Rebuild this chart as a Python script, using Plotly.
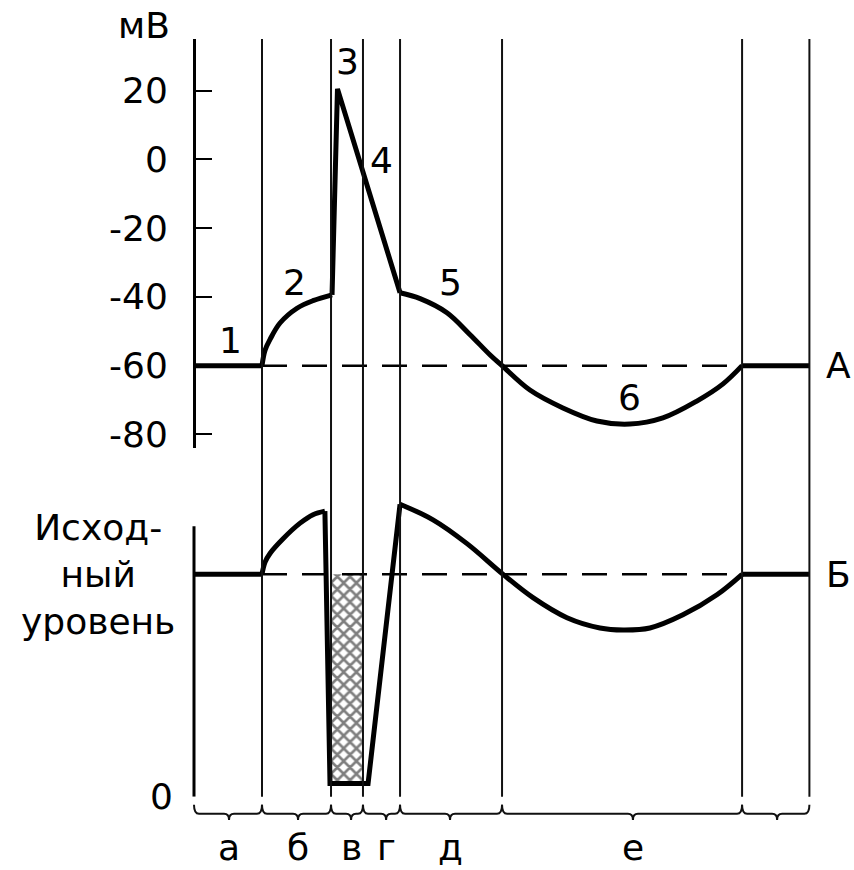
import plotly.graph_objects as go

# ---------------- data (time in arbitrary units, potential in mV) ----------------
phase_bounds = [0, 2.0, 4.03, 4.97, 6.06, 9.06, 16.12, 18.1]
phase_labels = ["а", "б", "в", "г", "д", "е", ""]
phase_label_x = [1.03, 3.06, 4.62, 5.65, 7.53, 12.91, 17.15]

mv_ticks = [20, 0, -20, -40, -60, -80]
mv_ticktext = ["20", "0", "-20", "-40", "-60", "-80"]
resting_mv = -60
baseline_exc = 100
exc_axis_top = 121.6

# membrane potential (A), split into linear / smooth pieces
a_rest1_x = [0, 2.0]
a_rest1_y = [-60, -60]
a_prepot_x = [2.0, 2.09, 2.24, 2.53, 3.03, 3.5, 4.06]
a_prepot_y = [-60, -55.5, -52.3, -47.6, -43.3, -41.1, -39.4]
a_spike_x = [4.06, 4.22, 6.06]
a_spike_y = [-39.4, 20.5, -38.8]
a_trace_x = [6.06, 6.65, 7.44, 8.12, 8.71, 9.06, 9.88, 10.85, 11.85, 12.82, 13.79, 14.79, 15.56, 16.12]
a_trace_y = [-38.8, -40.5, -44.6, -51.0, -56.9, -60.0, -67.1, -72.3, -76.1, -77.0, -75.2, -70.3, -65.3, -60]
a_rest2_x = [16.12, 18.1]
a_rest2_y = [-60, -60]

# excitability (Б), baseline = 100
b_rest1_x = [0, 2.0]
b_rest1_y = [100, 100]
b_supra_x = [2.0, 2.09, 2.24, 2.62, 3.12, 3.5, 3.85]
b_supra_y = [100, 105.5, 109.5, 116.0, 123.0, 126.8, 128.4]
b_refr_x = [3.85, 4.0, 5.12, 6.06]
b_refr_y = [128.4, 6, 6, 131.5]
b_trace_x = [6.06, 7.03, 8.03, 9.09, 9.97, 10.97, 11.94, 12.62, 13.41, 14.38, 15.38, 16.12]
b_trace_y = [131.5, 124.5, 113.8, 100, 89.5, 80.5, 75.9, 75.0, 75.9, 81.8, 90.8, 100]
b_rest2_x = [16.12, 18.1]
b_rest2_y = [100, 100]

# absolute refractory area (hatched)
hatch_x = [4.0, 4.97, 4.97, 4.0]
hatch_y = [100, 100, 6, 6]

# curve number labels
num_labels = ["1", "2", "3", "4", "5", "6"]
num_x = [1.06, 2.97, 4.5, 5.5, 7.53, 12.82]
num_y = [-52.8, -35.9, 28.6, -0.3, -35.9, -69.4]

# ---------------- figure geometry ----------------
W = 854
REF_H = 870                   # reference picture height (layout fractions)
FIG_H = 893                   # rendered figure height (page photo squeezes it)
PX0, PXU = 194, 34.0          # pixel of t=0 and pixels per unit
def py(p):                    # reference pixel row -> paper fraction
    return 1 - p / REF_H

FONT = "DejaVu Sans"
FS = 36
CURVE_W = 5

fig = go.Figure()

# hatched area
fig.add_trace(go.Scatter(
    x=hatch_x, y=hatch_y, xaxis="x", yaxis="y2", mode="lines", fill="toself",
    line=dict(width=0, color="black"), fillcolor="white",
    fillpattern=dict(shape="x", size=9, solidity=0.5, fgcolor="black", bgcolor="white"),
))

# dashed reference levels
fig.add_trace(go.Scatter(x=[phase_bounds[1], phase_bounds[6]], y=[resting_mv, resting_mv],
                         yaxis="y", mode="lines",
                         line=dict(color="black", width=2.5, dash="25px,15px")))
fig.add_trace(go.Scatter(x=[phase_bounds[1], phase_bounds[6]], y=[baseline_exc, baseline_exc],
                         yaxis="y2", mode="lines",
                         line=dict(color="black", width=2.5, dash="25px,15px")))

def seg(x, y, ax, smooth):
    fig.add_trace(go.Scatter(
        x=x, y=y, yaxis=ax, mode="lines",
        line=dict(color="black", width=CURVE_W, shape="spline" if smooth else "linear",
                  smoothing=1.0 if smooth else None),
    ))

seg(a_rest1_x, a_rest1_y, "y", False)
seg(a_prepot_x, a_prepot_y, "y", True)
seg(a_spike_x, a_spike_y, "y", False)
seg(a_trace_x, a_trace_y, "y", True)
seg(a_rest2_x, a_rest2_y, "y", False)

seg(b_rest1_x, b_rest1_y, "y2", False)
seg(b_supra_x, b_supra_y, "y2", True)
seg(b_refr_x, b_refr_y, "y2", False)
seg(b_trace_x, b_trace_y, "y2", True)
seg(b_rest2_x, b_rest2_y, "y2", False)

shapes = []
# lower (excitability) axis line
shapes.append(dict(type="line", xref="x", yref="y2", x0=0, x1=0, y0=0, y1=exc_axis_top,
                   line=dict(color="black", width=3)))
# vertical phase boundaries
for b in phase_bounds[1:]:
    shapes.append(dict(type="line", xref="x", yref="paper", x0=b, x1=b,
                       y0=py(795), y1=py(39), line=dict(color="#111", width=2)))

# curly braces under each phase
ytop, yflat, ydip = py(803), py(812), py(818)
r = 5 / PXU
for i in range(len(phase_bounds) - 1):
    x0, x1, xm = phase_bounds[i], phase_bounds[i + 1], phase_label_x[i]
    rr = min(r, (x1 - x0) / 6)
    path = (f"M {x0},{ytop} Q {x0},{yflat} {x0 + rr},{yflat} "
            f"L {xm - rr},{yflat} Q {xm},{yflat} {xm},{ydip} "
            f"Q {xm},{yflat} {xm + rr},{yflat} "
            f"L {x1 - rr},{yflat} Q {x1},{yflat} {x1},{ytop}")
    shapes.append(dict(type="path", xref="x", yref="paper", path=path,
                       line=dict(color="#111", width=2)))

annotations = []
for lbl, x in zip(phase_labels, phase_label_x):
    if lbl:
        annotations.append(dict(text=lbl, x=x, y=py(846), xref="x", yref="paper",
                                showarrow=False, font=dict(size=FS, family=FONT, color="black"),
                                xanchor="center", yanchor="middle", borderpad=0))
for lbl, x, y in zip(num_labels, num_x, num_y):
    annotations.append(dict(text=lbl, x=x, y=y, xref="x", yref="y", showarrow=False,
                            font=dict(size=FS, family=FONT, color="black"),
                            xanchor="center", yanchor="middle"))
annotations += [
    dict(text="мВ", x=(172 - PX0) / PXU, y=py(25), xref="x", yref="paper", showarrow=False,
         xanchor="right", yanchor="middle", font=dict(size=FS, family=FONT, color="black")),
    dict(text="А", x=(824 - PX0) / PXU, y=resting_mv, xref="x", yref="y", showarrow=False,
         xanchor="left", yanchor="middle", font=dict(size=FS, family=FONT, color="black")),
    dict(text="Б", x=(824 - PX0) / PXU, y=baseline_exc, xref="x", yref="y2", showarrow=False,
         xanchor="left", yanchor="middle", font=dict(size=FS, family=FONT, color="black")),
    dict(text="Исход-<br>ный<br>уровень", x=(98 - PX0) / PXU, y=baseline_exc, xref="x", yref="y2",
         showarrow=False, xanchor="center", yanchor="middle", align="center",
         font=dict(size=FS, family=FONT, color="black")),
]

up_mv = (159 - 39) / 3.43
lo_mv = (159 - 447) / 3.43
EXC_PX = 2.22                 # reference px per excitability unit

fig.update_layout(
    width=W, height=FIG_H, margin=dict(l=0, r=0, t=0, b=0), autosize=False,
    paper_bgcolor="white", plot_bgcolor="white", showlegend=False, hovermode=False,
    xaxis=dict(range=[-PX0 / PXU, (W - PX0) / PXU], visible=False, domain=[0, 1]),
    yaxis=dict(domain=[py(447), py(39)], range=[lo_mv, up_mv], anchor="free",
               position=PX0 / W, showline=True, linecolor="black", linewidth=3,
               ticks="inside", ticklen=16, tickwidth=2, tickcolor="black",
               tickvals=mv_ticks, ticktext=mv_ticktext, showgrid=False, zeroline=False,
               tickfont=dict(size=FS, family=FONT, color="black"), ticklabelstandoff=18),
    yaxis2=dict(domain=[py(795), py(480)], range=[0, (795 - 480) / EXC_PX], anchor="free",
                position=PX0 / W, showline=False,
                ticks="", tickvals=[0], ticktext=["0"], showgrid=False, zeroline=False,
                tickfont=dict(size=FS, family=FONT, color="black"), ticklabelstandoff=21),
    shapes=shapes, annotations=annotations,
)

fig.write_html("out.html", config={"responsive": False, "displayModeBar": False},
               post_script="document.body.style.margin='0';document.body.style.overflow='hidden';")
